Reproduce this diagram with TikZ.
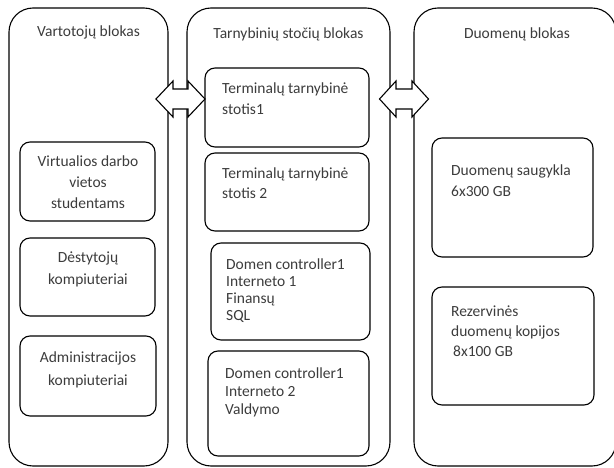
\documentclass[tikz,border=0pt]{standalone}
\usepackage{fontspec}
\setmainfont{Carlito}
\definecolor{txtgray}{RGB}{60,60,60}
\begin{document}
\begin{tikzpicture}[x=1pt,y=-1pt,
  block/.style={draw=black, line width=1.1pt, rounded corners=24pt, inner sep=0pt, outer sep=0pt},
  box/.style={draw=black, line width=1.1pt, rounded corners=10pt, inner sep=0pt, outer sep=0pt},
  txt/.style={font=\fontsize{15.5}{20}\selectfont, text=txtgray, inner sep=0pt, align=left, anchor=base west},
  ctxt/.style={font=\fontsize{15.5}{20}\selectfont, text=txtgray, inner sep=0pt, align=center, anchor=base},
  dbl/.style={draw=black, fill=white, line width=1.1pt, line join=miter}]
\useasboundingbox (0,0) rectangle (614,468);

% outer blocks
\node[block, minimum width=159pt, minimum height=458pt] (bl) at (88.5,237) {};
\node[block, minimum width=203pt, minimum height=458pt] (bm) at (288.5,237) {};
\node[block, minimum width=202pt, minimum height=458pt] (br) at (515,237) {};

% titles
\node[ctxt] (tl) at (88.5,37) {Vartotojų blokas};
\node[ctxt] (tm) at (288.5,39) {Tarnybinių stočių blokas};
\node[ctxt] (tr) at (517,39) {Duomenų blokas};

% left column
\node[box, minimum width=135pt, minimum height=79pt] (v1) at (87.5,181.5) {};
\node[box, minimum width=135pt, minimum height=78pt] (v2) at (87.5,277) {};
\node[box, minimum width=136pt, minimum height=80pt] (v3) at (88,376) {};
\node[ctxt, font=\fontsize{15.5}{21}\selectfont] (v1t) at (88,209) {Virtualios darbo\\vietos\\studentams};
\node[ctxt, font=\fontsize{15.5}{22}\selectfont] (v2t) at (88,285) {Dėstytojų\\kompiuteriai};
\node[ctxt, font=\fontsize{15.5}{23}\selectfont] (v3t) at (88,385) {Administracijos\\kompiuteriai};

% middle column
\node[box, minimum width=164pt, minimum height=79pt] (t1) at (287,107.5) {};
\node[box, minimum width=164pt, minimum height=78pt] (t2) at (287,192) {};
\node[box, minimum width=159pt, minimum height=97pt] (d1) at (290.5,291.5) {};
\node[box, minimum width=161pt, minimum height=105pt] (d2) at (288.5,403.5) {};
\node[txt, font=\fontsize{15.5}{21}\selectfont] (t1t) at (222,115) {Terminalų tarnybinė\\stotis1};
\node[txt, font=\fontsize{15.5}{20}\selectfont] (t2t) at (222,199) {Terminalų tarnybinė\\stotis 2};
\node[txt, font=\fontsize{15.5}{17}\selectfont] (d1t) at (226,320) {Domen controller1\\Interneto 1\\Finansų\\SQL};
\node[txt, font=\fontsize{15.5}{18}\selectfont] (d2t) at (225,414) {Domen controller1\\Interneto 2\\Valdymo};

% right column
\node[box, minimum width=161pt, minimum height=119pt] (s1) at (512.5,197.5) {};
\node[box, minimum width=162pt, minimum height=118pt] (s2) at (513,346) {};
\node[txt, font=\fontsize{15.5}{21}\selectfont] (s1t) at (451,197) {Duomenų saugykla\\6x300 GB};
\node[txt, font=\fontsize{15.5}{20}\selectfont] (s2t) at (451,356) {Rezervinės\\duomenų kopijos\\\hspace{2pt}8x100 GB};

% double arrows between blocks
\coordinate (a1) at (180.5,99);
\coordinate (a2) at (404,99);
\draw[dbl, shift={(a1)}] (-24.5,0) -- (-7.5,-18) -- (-7.5,-10) -- (7.5,-10) -- (7.5,-18) -- (24.5,0)
  -- (7.5,18) -- (7.5,10) -- (-7.5,10) -- (-7.5,18) -- cycle;
\draw[dbl, shift={(a2)}] (-24.5,0) -- (-8,-18) -- (-8,-10) -- (8,-10) -- (8,-18) -- (24.5,0)
  -- (8,18) -- (8,10) -- (-8,10) -- (-8,18) -- cycle;
\end{tikzpicture}
\end{document}
